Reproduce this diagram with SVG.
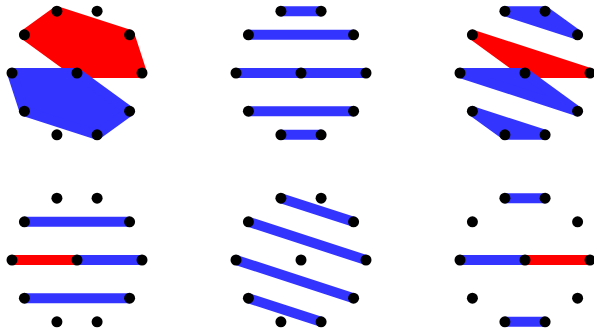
<svg xmlns="http://www.w3.org/2000/svg" xmlns:xlink="http://www.w3.org/1999/xlink" width="594" height="329" viewBox="0 0 594 329">
<style>
.b{fill:#3434ff;stroke:#3434ff;stroke-width:10;stroke-linejoin:round;stroke-linecap:round}
.r{fill:#ff0000;stroke:#ff0000;stroke-width:10;stroke-linejoin:round;stroke-linecap:round}
.bl{fill:none;stroke:#3434ff;stroke-width:10;stroke-linecap:butt}
.rl{fill:none;stroke:#ff0000;stroke-width:10;stroke-linecap:butt}
.d{fill:#000}
</style>
<defs>
<g id="dots" class="d">
<circle cx="65" cy="0" r="5.5"/>
<circle cx="52.59" cy="-38.21" r="5.5"/>
<circle cx="20.09" cy="-61.82" r="5.5"/>
<circle cx="-20.09" cy="-61.82" r="5.5"/>
<circle cx="-52.59" cy="-38.21" r="5.5"/>
<circle cx="-65" cy="0" r="5.5"/>
<circle cx="-52.59" cy="38.21" r="5.5"/>
<circle cx="-20.09" cy="61.82" r="5.5"/>
<circle cx="20.09" cy="61.82" r="5.5"/>
<circle cx="52.59" cy="38.21" r="5.5"/>
<circle cx="0" cy="0" r="5.5"/>
</g>
</defs>
<rect width="594" height="329" fill="#fff"/>
<g id="panel1" transform="translate(77,73)">
<g id="connectors1">
<polygon class="r" points="-20.09,-61.82 52.59,-38.21 65,0 0,0 -52.59,-38.21"/>
<polygon class="b" points="-65,0 0,0 52.59,38.21 20.09,61.82 -52.59,38.21"/>
</g>
<use href="#dots"/>
</g>
<g id="panel2" transform="translate(301,73)">
<g id="connectors2">
<line class="bl" x1="-20.09" y1="-61.82" x2="20.09" y2="-61.82"/>
<line class="bl" x1="-52.59" y1="-38.21" x2="52.59" y2="-38.21"/>
<line class="bl" x1="-65" y1="0" x2="65" y2="0"/>
<line class="bl" x1="-52.59" y1="38.21" x2="52.59" y2="38.21"/>
<line class="bl" x1="-20.09" y1="61.82" x2="20.09" y2="61.82"/>
</g>
<use href="#dots"/>
</g>
<g id="panel3" transform="translate(525,73)">
<g id="connectors3">
<polygon class="b" points="-20.09,-61.82 20.09,-61.82 52.59,-38.21"/>
<polygon class="r" points="-52.59,-38.21 65,0 0,0"/>
<polygon class="b" points="-65,0 0,0 52.59,38.21"/>
<polygon class="b" points="-52.59,38.21 20.09,61.82 -20.09,61.82"/>
</g>
<use href="#dots"/>
</g>
<g id="panel4" transform="translate(77,260)">
<g id="connectors4">
<line class="bl" x1="-52.59" y1="-38.21" x2="52.59" y2="-38.21"/>
<line class="rl" x1="-65" y1="0" x2="0" y2="0"/>
<line class="bl" x1="0" y1="0" x2="65" y2="0"/>
<line class="bl" x1="-52.59" y1="38.21" x2="52.59" y2="38.21"/>
</g>
<use href="#dots"/>
</g>
<g id="panel5" transform="translate(301,260)">
<g id="connectors5">
<line class="bl" x1="-20.09" y1="-61.82" x2="52.59" y2="-38.21"/>
<line class="bl" x1="-52.59" y1="-38.21" x2="65" y2="0"/>
<line class="bl" x1="-65" y1="0" x2="52.59" y2="38.21"/>
<line class="bl" x1="-52.59" y1="38.21" x2="20.09" y2="61.82"/>
</g>
<use href="#dots"/>
</g>
<g id="panel6" transform="translate(525,260)">
<g id="connectors6">
<line class="bl" x1="-20.09" y1="-61.82" x2="20.09" y2="-61.82"/>
<line class="bl" x1="-65" y1="0" x2="0" y2="0"/>
<line class="rl" x1="0" y1="0" x2="65" y2="0"/>
<line class="bl" x1="-20.09" y1="61.82" x2="20.09" y2="61.82"/>
</g>
<use href="#dots"/>
</g>
</svg>
